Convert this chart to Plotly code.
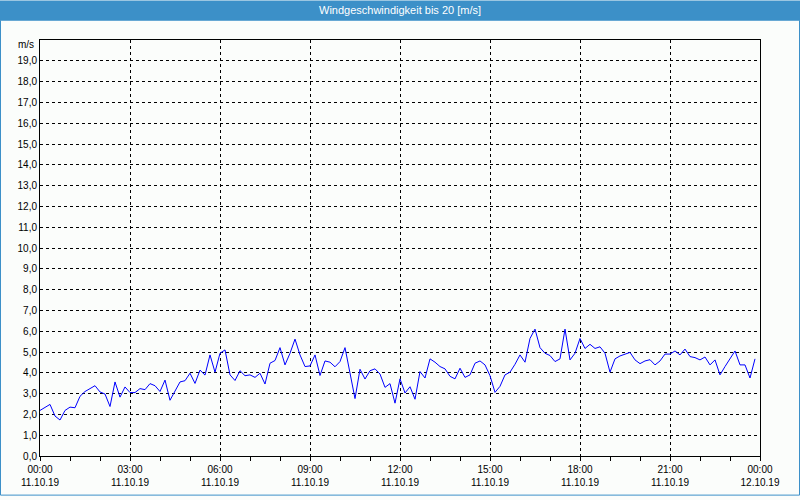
import pandas as pd
import plotly.graph_objects as go

# Wind speed readings every 10 minutes, 11.10.19 00:00 .. 23:50 (m/s)
speed_00_06 = [2.19, 2.35, 2.48, 1.92, 1.73, 2.19, 2.35, 2.32, 2.87, 3.10, 3.24, 3.38,
               3.08, 2.98, 2.38, 3.56, 2.83, 3.32, 3.05, 3.05, 3.24, 3.19, 3.48, 3.38,
               3.10, 3.65, 2.68, 3.10, 3.56, 3.62, 3.98, 3.49, 4.13, 3.89, 4.86, 4.03]
speed_06_12 = [4.94, 5.10, 3.90, 3.63, 4.10, 3.86, 3.90, 3.78, 3.98, 3.46, 4.46, 4.59,
               5.21, 4.38, 4.94, 5.62, 4.86, 4.30, 4.33, 4.86, 3.87, 4.57, 4.51, 4.29,
               4.54, 5.21, 4.06, 2.76, 4.17, 3.70, 4.10, 4.19, 3.94, 3.30, 3.48, 2.54]
speed_12_18 = [3.71, 3.03, 3.33, 2.73, 4.06, 3.75, 4.67, 4.51, 4.30, 4.19, 3.83, 3.71,
               4.22, 3.78, 3.90, 4.46, 4.57, 4.38, 3.86, 3.06, 3.35, 3.90, 4.03, 4.41,
               4.86, 4.51, 5.65, 6.10, 5.21, 4.94, 4.83, 4.54, 4.67, 6.10, 4.62, 4.94]
speed_18_24 = [5.65, 5.17, 5.37, 5.17, 5.25, 4.94, 4.03, 4.67, 4.81, 4.89, 4.98, 4.62,
               4.44, 4.57, 4.63, 4.38, 4.57, 4.90, 4.90, 5.05, 4.86, 5.14, 4.78, 4.73,
               4.62, 4.76, 4.38, 4.62, 3.90, 4.30, 4.67, 5.05, 4.38, 4.38, 3.75, 4.67]
speed = speed_00_06 + speed_06_12 + speed_12_18 + speed_18_24
times = pd.date_range("2019-10-11 00:00", periods=len(speed), freq="10min")

x_tick_times = pd.date_range("2019-10-11 00:00", "2019-10-12 00:00", freq="3h")
x_tick_labels = [t.strftime("%H:%M") + "<br>" + t.strftime("%d.%m.%y") for t in x_tick_times]
x_minor_times = pd.date_range("2019-10-11 00:00", "2019-10-12 00:00", freq="1h")
y_tick_vals = list(range(0, 20))
y_tick_labels = [f"{v},0" for v in y_tick_vals]

title_text = "Windgeschwindigkeit bis 20 [m/s]"
unit_text = "m/s"

W, H = 800, 500
L, R, T, B = 40, 40, 40, 40
pw, ph = W - L - R, H - T - B

def px_x(x):
    return (x - L) / pw

def px_y(y):
    return (H - B - y) / ph

font = dict(family="Liberation Sans, Arial, sans-serif", size=10, color="#000000")
bar_color = "#3c90c8"

fig = go.Figure()
fig.add_trace(go.Scatter(x=times, y=speed, mode="lines",
                         line=dict(color="#0000ff", width=1), hoverinfo="skip"))

fig.update_layout(
    width=W, height=H,
    margin=dict(l=L, r=R, t=T, b=B),
    paper_bgcolor="#fbfdfb", plot_bgcolor="#fbfdfb",
    showlegend=False,
    font=font,
    xaxis=dict(
        range=[x_tick_times[0], x_tick_times[-1]],
        tickmode="array", tickvals=list(x_tick_times), ticktext=x_tick_labels,
        ticks="outside", ticklen=4, tickcolor="black",
        showgrid=True, gridcolor="black", gridwidth=1, griddash="3px,3px",
        showline=True, linecolor="black", linewidth=1, mirror=True,
        minor=dict(tickvals=list(x_minor_times), ticks="outside", ticklen=4,
                   tickcolor="black", showgrid=False),
        zeroline=False, tickfont=font,
    ),
    yaxis=dict(
        range=[0, 20],
        tickmode="array", tickvals=y_tick_vals, ticktext=y_tick_labels,
        ticks="", showgrid=True, gridcolor="black", gridwidth=1, griddash="3px,3px",
        showline=True, linecolor="black", linewidth=1, mirror=True,
        zeroline=False, tickfont=font,
    ),
    shapes=[
        # title bar
        dict(type="rect", xref="paper", yref="paper",
             x0=px_x(0), x1=px_x(W), y0=px_y(20), y1=px_y(0),
             fillcolor=bar_color, line=dict(width=0), layer="below"),
        # outer frame
        dict(type="rect", xref="paper", yref="paper",
             x0=px_x(0.5), x1=px_x(W - 0.5), y0=px_y(H - 0.5), y1=px_y(20),
             fillcolor="rgba(0,0,0,0)", line=dict(color=bar_color, width=1)),
    ],
    annotations=[
        dict(text=title_text, xref="paper", yref="paper", x=px_x(400), y=px_y(10),
             xanchor="center", yanchor="middle", showarrow=False,
             font=dict(family="Liberation Sans, Arial, sans-serif", size=11, color="white")),
        dict(text=unit_text, xref="paper", yref="paper", x=px_x(36), y=px_y(45),
             xanchor="right", yanchor="middle", showarrow=False, font=font),
    ],
)

fig.write_html("out.html")
